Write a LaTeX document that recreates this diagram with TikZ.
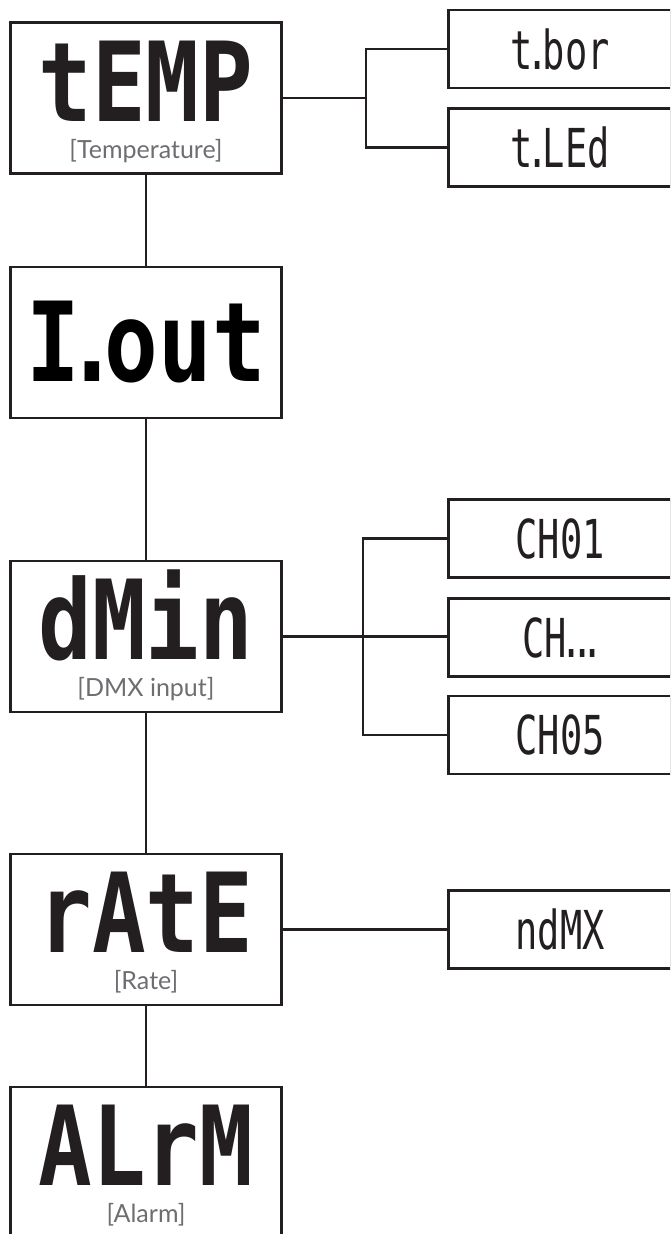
\documentclass[tikz,border=0pt]{standalone}
\usepackage{fontspec}
\usepackage{graphicx}
\usetikzlibrary{positioning}
\setmainfont{Lato}
\newfontfamily\segfont{DejaVu Sans Mono}
\definecolor{ink}{HTML}{231F20}
\definecolor{capgray}{HTML}{6D6E71}
\newcommand{\sdot}{\makebox[0.28em][c]{.}}
\newcommand{\bigseg}[1]{\scalebox{0.97}[1.2]{\segfont\bfseries\fontsize{92}{92}\selectfont #1}}
\newcommand{\smallseg}[1]{\scalebox{1}[1.45]{\segfont\fontsize{37}{37}\selectfont #1}}
\tikzset{
  mainbox/.style={draw=ink, line width=2.8pt, minimum width=271pt, minimum height=151pt, inner sep=0pt},
  sidebox/.style={draw=ink, line width=2.8pt, minimum width=223pt, minimum height=78pt, inner sep=0pt, text=ink},
  segtext/.style={anchor=base, inner sep=0pt, text=ink},
  caption/.style={anchor=base, inner sep=0pt, text=capgray, font=\fontsize{25}{25}\selectfont},
  wire/.style={draw=ink, line width=2.2pt}
}
\begin{document}
\begin{tikzpicture}[x=1pt,y=-1pt]
    \useasboundingbox (0,0) rectangle (670,1234);
    \clip (0,0) rectangle (670,1234);

    %TEMP
    \node[mainbox] (temp) at (146,98) {};
    \node[segtext] (tempseg) at ([yshift=-100pt]temp.north) {\bigseg{tEMP}};
    \node[caption] (tempcap) at ([yshift=-137pt]temp.north) {[Temperature]};
    \node[sidebox] (tbor) at (560,49) {\smallseg{t\sdot bor}};
    \node[sidebox] (tled) at (560,147.5) {\smallseg{t\sdot LEd}};
    \coordinate (tsplit) at (366,98);
    \draw[wire] (temp.east) -- (tsplit);
    \draw[wire] (tbor.west) -| (tsplit) |- (tled.west);

    %I.OUT
    \node[mainbox] (iout) at (146,342.5) {\bigseg{I\sdot out}};
    \draw[wire] (temp.south) -- (iout.north);

    %DMIN
    \node[mainbox] (dmin) at (146,636.5) {};
    \node[segtext] (dminseg) at ([yshift=-100pt]dmin.north) {\bigseg{dMin}};
    \node[caption] (dmincap) at ([yshift=-137pt]dmin.north) {[DMX input]};
    \node[sidebox] (chone) at (560,538.5) {\smallseg{CH01}};
    \node[sidebox] (chdots) at (560,637.5) {\smallseg{CH\sdot\sdot\sdot}};
    \node[sidebox] (chfive) at (560,735) {\smallseg{CH05}};
    \coordinate (dsplit) at (363,636.5);
    \draw[wire] (iout.south) -- (dmin.north);
    \draw[wire] (dmin.east) -- (chdots.west |- dmin.east);
    \draw[wire] (chone.west) -| (dsplit) |- (chfive.west);

    %RATE
    \node[mainbox] (rate) at (146,929.5) {};
    \node[segtext] (rateseg) at ([yshift=-100pt]rate.north) {\bigseg{rAtE}};
    \node[caption] (ratecap) at ([yshift=-137pt]rate.north) {[Rate]};
    \node[sidebox] (ndmx) at (560,929.5) {\smallseg{ndMX}};
    \draw[wire] (dmin.south) -- (rate.north);
    \draw[wire] (rate.east) -- (ndmx.west);

    %ALRM
    \node[mainbox] (alrm) at (146,1162.5) {};
    \node[segtext] (alrmseg) at ([yshift=-100pt]alrm.north) {\bigseg{ALrM}};
    \node[caption] (alrmcap) at ([yshift=-137pt]alrm.north) {[Alarm]};
    \draw[wire] (rate.south) -- (alrm.north);
\end{tikzpicture}
\end{document}
